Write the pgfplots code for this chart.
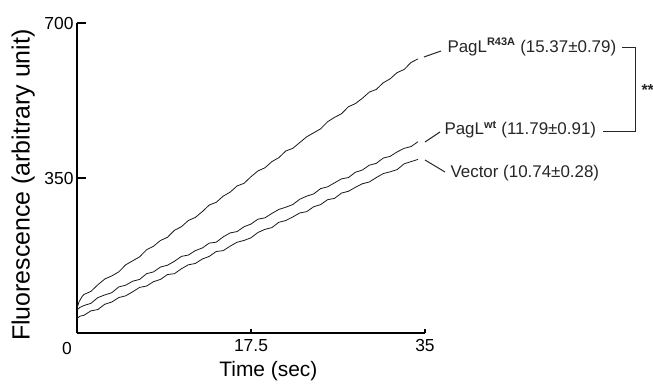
\documentclass[border=0pt]{standalone}
\usepackage{fontspec}
\setmainfont{Liberation Sans}
\usepackage{pgfplots}
\pgfplotsset{compat=1.18}
\newcommand{\sups}[1]{\textsuperscript{\fontsize{11}{12}\selectfont\bfseries #1}}
\begin{document}
\begin{tikzpicture}[x=1bp,y=1bp]
\path[use as bounding box] (-77bp,-51bp) rectangle (576bp,333bp);
\begin{axis}[
  at={(0,0)}, anchor=south west,
  scale only axis, width=348bp, height=310bp,
  xmin=0, xmax=35, ymin=0, ymax=700,
  axis lines=left,
  axis line style={line width=2bp, -},
  xtick={17.5,35}, xticklabels={17.5,35},
  ytick={350,700},
  tick align=inside,
  major tick length=4bp,
  tick style={line width=1.5bp, black},
  y tick style={/pgfplots/major tick length=9bp},
  /pgf/number format/assume math mode=true,
  ticklabel style={font=\fontsize{17.5}{20}\selectfont},
  xticklabel style={yshift=-3bp},
  xlabel={Time (sec)},
  ylabel={Fluorescence (arbitrary unit)},
  xlabel style={font=\fontsize{21}{24}\selectfont, at={(axis description cs:0.55,-0.123)}, anchor=center},
  ylabel style={font=\fontsize{25}{28}\selectfont, at={(axis description cs:-0.155,0.477)}, anchor=center},
  clip=false,
]
% PagL R43A
\addplot[black!90, line width=0.8bp] coordinates {
(0,56)(0.2,70)(0.5,82)(0.7,87)(1.4,94)(2.1,109)(2.8,122)(3.5,129)(4.2,138)(4.9,154)(5.6,163)(6.3,172)(7.0,188)(7.7,196)(8.4,209)(9.1,216)(9.8,232)(10.5,240)(11.2,254)(11.9,261)(12.6,274)(13.3,289)(14.0,295)(14.7,309)(15.4,318)(16.1,332)(16.8,338)(17.5,353)(18.2,366)(18.9,373)(19.6,387)(20.3,396)(21.0,411)(21.7,417)(22.4,430)(23.1,443)(23.8,452)(24.5,461)(25.2,477)(25.9,487)(26.6,495)(27.3,511)(28.0,518)(28.7,530)(29.4,544)(30.1,550)(30.8,565)(31.5,574)(32.2,588)(32.9,595)(33.6,611)(34.3,619)
};
% PagL wt
\addplot[black!90, line width=0.8bp] coordinates {
(0,52)(0.3,58)(0.7,62)(1.4,67)(2.1,80)(2.8,86)(3.5,91)(4.2,104)(4.9,108)(5.6,117)(6.3,121)(7.0,134)(7.7,138)(8.4,149)(9.1,153)(9.8,162)(10.5,173)(11.2,176)(11.9,186)(12.6,192)(13.3,203)(14.0,205)(14.7,217)(15.4,226)(16.1,229)(16.8,240)(17.5,246)(18.2,257)(18.9,260)(19.6,270)(20.3,279)(21.0,284)(21.7,290)(22.4,302)(23.1,309)(23.8,314)(24.5,326)(25.2,330)(25.9,339)(26.6,348)(27.3,351)(28.0,363)(28.7,368)(29.4,379)(30.1,383)(30.8,395)(31.5,399)(32.2,409)(32.9,417)(33.6,421)(34.3,432)
};
% Vector
\addplot[black!90, line width=0.8bp] coordinates {
(0,33)(0.3,38)(0.7,40)(1.4,50)(2.1,53)(2.8,65)(3.5,70)(4.2,80)(4.9,84)(5.6,93)(6.3,103)(7.0,106)(7.7,116)(8.4,121)(9.1,132)(9.8,134)(10.5,145)(11.2,154)(11.9,157)(12.6,167)(13.3,173)(14.0,184)(14.7,186)(15.4,196)(16.1,205)(16.8,209)(17.5,215)(18.2,227)(18.9,234)(19.6,238)(20.3,250)(21.0,254)(21.7,262)(22.4,271)(23.1,274)(23.8,285)(24.5,290)(25.2,301)(25.9,304)(26.6,316)(27.3,320)(28.0,329)(28.7,337)(29.4,341)(30.1,351)(30.8,360)(31.5,364)(32.2,369)(32.9,382)(33.6,387)(34.3,392)
};
\end{axis}
\node[font=\fontsize{17.5}{20}\selectfont] at (-10bp,-15bp) {0};
\begin{scope}[line width=1bp, black!85, font=\fontsize{17}{20}\selectfont]
\draw (347,276) -- (364,282);
\node[anchor=west, inner sep=0pt] at (370,286) {PagL\sups{R43A} (15.37±0.79)};
\draw (348,191) -- (363,201);
\node[anchor=west, inner sep=0pt] at (367,203) {PagL\sups{wt} (11.79±0.91)};
\draw (348,173) -- (368,161);
\node[anchor=west, inner sep=0pt] at (373,160) {Vector (10.74±0.28)};
\draw (545,285) -- (558,285) -- (558,201) -- (526,201);
\node[anchor=west, inner sep=0pt, font=\fontsize{16}{19}\selectfont\bfseries] at (564,243) {**};
\end{scope}
\end{tikzpicture}
\end{document}
